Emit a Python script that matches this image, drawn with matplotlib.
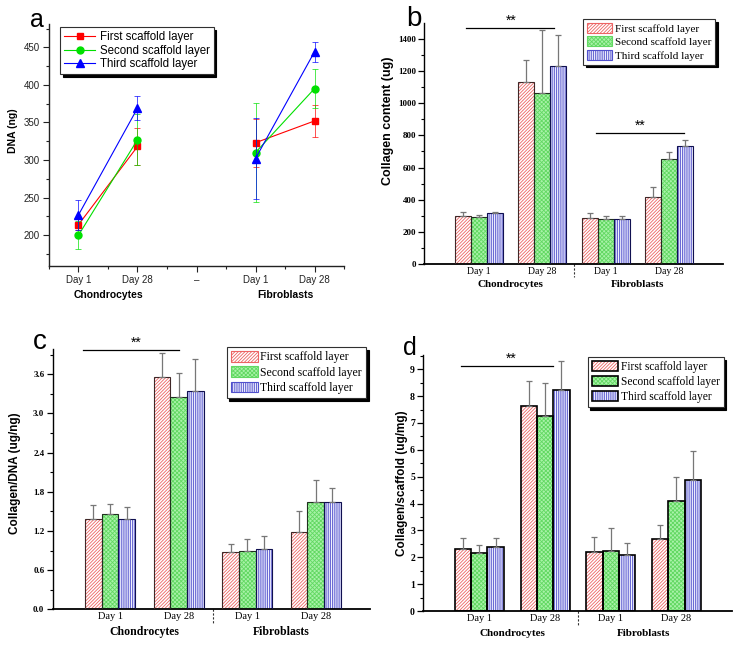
import numpy as np
import matplotlib
matplotlib.use('Agg')
import matplotlib.pyplot as plt
from matplotlib.patches import Patch
from matplotlib.lines import Line2D
from matplotlib.legend_handler import HandlerTuple
from matplotlib.ticker import MultipleLocator

plt.rcParams['hatch.linewidth'] = 0.6
SANS = 'Liberation Sans'
SERIF = 'Liberation Serif'

layers = ['First scaffold layer', 'Second scaffold layer', 'Third scaffold layer']
day_labels = ['Day 1', 'Day 28', 'Day 1', 'Day 28']
groups = ['Chondrocytes', 'Fibroblasts']

# panel a: DNA (ng) -- Chon D1, Chon D28, gap, Fib D1, Fib D28
dna_ticks = ['Day 1', 'Day 28', '–', 'Day 1', 'Day 28']
dna_first = [214, 318, np.nan, 323, 352]
dna_second = [200, 327, np.nan, 310, 395]
dna_third = [227, 369, np.nan, 302, 444]
dna_first_err = [7, 24, np.nan, 32, 21]
dna_second_err = [19, 34, np.nan, 66, 26]
dna_third_err = [20, 16, np.nan, 54, 13]

# panel b: collagen content (ug)
col_first = [297, 1131, 285, 419]
col_second = [292, 1066, 278, 651]
col_third = [315, 1232, 278, 736]
col_first_err = [25, 139, 31, 58]
col_second_err = [13, 390, 20, 46]
col_third_err = [7, 191, 20, 34]

# panel c: collagen / DNA (ug/ng)
cd_first = [1.38, 3.555, 0.873, 1.185]
cd_second = [1.456, 3.243, 0.894, 1.639]
cd_third = [1.379, 3.34, 0.919, 1.65]
cd_first_err = [0.21, 0.37, 0.12, 0.32]
cd_second_err = [0.15, 0.38, 0.18, 0.34]
cd_third_err = [0.18, 0.49, 0.21, 0.21]

# panel d: collagen / scaffold (ug/mg)
cs_first = [2.30, 7.62, 2.20, 2.69]
cs_second = [2.15, 7.27, 2.23, 4.11]
cs_third = [2.37, 8.23, 2.09, 4.88]
cs_first_err = [0.41, 0.94, 0.55, 0.53]
cs_second_err = [0.32, 1.22, 0.87, 0.88]
cs_third_err = [0.34, 1.08, 0.43, 1.09]

line_colors = ['#ff0000', '#00e000', '#0000ff']
markers = ['s', 'o', '^']
bar_face = ['white', '#a8f2a8', '#f4f4ff']
hatch_col = ['#ec6464', '#62d862', '#5050cc']
hatches = ['//////////', 'xxxxxxxx', '|||||||||']
bar_edge = ['#402828', '#203020', '#101050']

fig = plt.figure(figsize=(7.39, 6.45), dpi=100)


def style_spines(ax, lw_left=1.0, lw_bottom=1.0, color='k'):
    for s in ['top', 'right']:
        ax.spines[s].set_visible(False)
    ax.spines['left'].set_linewidth(lw_left)
    ax.spines['bottom'].set_linewidth(lw_bottom)
    ax.spines['left'].set_color(color)
    ax.spines['bottom'].set_color(color)


def legend_box(ax, handles, anchor, font, size, **kw):
    leg = ax.legend(handles, layers, loc='upper left', bbox_to_anchor=anchor,
                    borderaxespad=0, fancybox=False, framealpha=1,
                    edgecolor='#303030', shadow={'color': 'k', 'alpha': 1},
                    prop={'family': font, 'size': size}, **kw)
    leg.get_frame().set_linewidth(0.8)
    return leg


# ---------------- panel a ----------------
axa = fig.add_axes([0.0663, 0.5876, 0.3992, 0.3752])
xa = np.arange(1, 6)
dna = [dna_first, dna_second, dna_third]
dna_err = [dna_first_err, dna_second_err, dna_third_err]
handles_a = []
for i in range(3):
    axa.errorbar(xa, dna[i], yerr=dna_err[i], fmt='none', ecolor=line_colors[i],
                 elinewidth=0.6, capsize=2.5, capthick=0.6, alpha=0.8)
    axa.plot(xa, dna[i], color=line_colors[i], lw=0.8, marker=markers[i],
             ms=6 if i == 2 else 5)
    handles_a.append(Line2D([], [], color=line_colors[i], lw=0.8,
                            marker=markers[i], ms=6 if i == 2 else 5))
axa.set_xlim(0.5, 5.5)
axa.set_ylim(159, 481)
axa.set_xticks(xa)
axa.set_xticklabels(dna_ticks, fontfamily=SANS, fontsize=7)
axa.xaxis.set_minor_locator(MultipleLocator(0.5))
axa.yaxis.set_minor_locator(MultipleLocator(25))
axa.set_yticks([200, 250, 300, 350, 400, 450])
for lab in axa.get_yticklabels():
    lab.set_fontfamily(SANS)
axa.tick_params(axis='both', which='major', direction='out', length=4, width=0.8,
                labelsize=7, colors='#222222', pad=2.5)
axa.tick_params(axis='both', which='minor', direction='out', length=2.5, width=0.8,
                colors='#222222')
style_spines(axa, color='#222222')
axa.text(-0.121, 0.559, 'DNA (ng)', rotation=90, ha='center', va='center',
         transform=axa.transAxes, fontfamily=SANS, fontweight='bold', fontsize=7.5)
for gx, g in zip([1.5, 4.5], groups):
    axa.text(gx, -0.12, g, transform=axa.get_xaxis_transform(), ha='center',
             va='center', fontfamily=SANS, fontweight='bold', fontsize=7.5)
legend_box(axa, handles_a, (0.037, 0.988), SANS, 8.3, handlelength=2.7,
           handletextpad=0.4, borderpad=0.35, labelspacing=0.15)


# ---------------- bar panels ----------------
def bar_panel(rect, series, errs, xlim, ylim, width, edge_lw, major, minor,
              ylabel, ylab_xy, fs, sig, leg_anchor, leg_size, black_leg=False):
    ax = fig.add_axes(rect)
    x = np.arange(1, 5)
    for i in range(3):
        pos = x + (i - 1) * width
        ax.bar(pos, series[i], width, color=bar_face[i], edgecolor=hatch_col[i],
               hatch=hatches[i], linewidth=0, zorder=2)
        ax.bar(pos, series[i], width, fill=False,
               edgecolor='k' if black_leg else bar_edge[i],
               linewidth=edge_lw, zorder=3)
        ax.errorbar(pos, series[i], yerr=[np.zeros(4), errs[i]], fmt='none',
                    ecolor='#777777', elinewidth=0.9, capsize=2, capthick=0.9, zorder=4)
    ax.set_xlim(*xlim)
    ax.set_ylim(*ylim)
    ax.set_xticks(x)
    ax.set_xticklabels(day_labels, fontfamily=SERIF, fontsize=fs['day'])
    ax.tick_params(axis='x', length=0, pad=2)
    ax.yaxis.set_major_locator(MultipleLocator(major))
    ax.yaxis.set_minor_locator(MultipleLocator(minor))
    ax.tick_params(axis='y', which='major', direction='out', length=4, width=0.9,
                   labelsize=fs['tick'], pad=2)
    ax.tick_params(axis='y', which='minor', direction='out', length=2, width=0.8)
    for lab in ax.get_yticklabels():
        lab.set_fontfamily(SERIF)
        lab.set_fontweight('bold')
    style_spines(ax, lw_left=1.0, lw_bottom=1.3)
    ax.text(ylab_xy[0], ylab_xy[1], ylabel, rotation=90, ha='center', va='center',
            transform=ax.transAxes, fontfamily=SANS, fontweight='bold',
            fontsize=fs['ylab'])
    for gx, g in zip([1.5, 3.5], groups):
        ax.text(gx, -0.086, g, transform=ax.get_xaxis_transform(), ha='center',
                va='center', fontfamily=SERIF, fontweight='bold', fontsize=fs['group'])
    # dashed divider between cell types
    ax.plot([2.5, 2.5], [0, -0.055], transform=ax.get_xaxis_transform(),
            color='#333333', lw=0.8, ls=(0, (2, 1.5)), clip_on=False)
    for x0, x1, yv, tx in sig:
        ax.plot([x0, x1], [yv, yv], color='k', lw=0.9, clip_on=False)
        ax.text(tx, yv, '**', ha='center', va='bottom', fontsize=10,
                fontfamily=SANS, clip_on=False)
    handles = []
    for i in range(3):
        h1 = Patch(facecolor=bar_face[i], edgecolor=hatch_col[i], hatch=hatches[i], lw=0)
        h2 = Patch(fill=False, edgecolor='k' if black_leg else hatch_col[i],
                   lw=1.2 if black_leg else 0.8)
        handles.append((h1, h2))
    legend_box(ax, handles, leg_anchor, SERIF, leg_size,
               handler_map={tuple: HandlerTuple(ndivide=1)},
               handlelength=2.3, handleheight=1.0, handletextpad=0.2,
               borderpad=0.35, labelspacing=0.25)
    return ax


bar_panel([0.5741, 0.5907, 0.4042, 0.3732],
          [col_first, col_second, col_third],
          [col_first_err, col_second_err, col_third_err],
          (0.146, 4.845), (0, 1497), 0.252, 0.8, 200, 100,
          'Collagen content (ug)', (-0.122, 0.595),
          {'day': 7, 'tick': 6.5, 'ylab': 9, 'group': 8},
          [(0.80, 2.19, 1470, 1.52), (2.85, 4.23, 815, 3.54)],
          (0.531, 1.018), 8)

bar_panel([0.0713, 0.0553, 0.4294, 0.4031],
          [cd_first, cd_second, cd_third],
          [cd_first_err, cd_second_err, cd_third_err],
          (0.164, 4.79), (0, 3.98), 0.243, 0.8, 0.6, 0.3,
          'Collagen/DNA (ug/ng)', (-0.119, 0.523),
          {'day': 7.5, 'tick': 6.5, 'ylab': 8.5, 'group': 8.5},
          [(0.60, 2.01, 3.97, 1.38)],
          (0.548, 1.009), 8.5)

bar_panel([0.5728, 0.0527, 0.4173, 0.3969],
          [cs_first, cs_second, cs_third],
          [cs_first_err, cs_second_err, cs_third_err],
          (0.147, 4.84), (0, 9.53), 0.248, 1.2, 1, 0.5,
          'Collagen/scaffold (ug/mg)', (-0.070, 0.5),
          {'day': 7.5, 'tick': 7, 'ylab': 8.5, 'group': 8},
          [(0.72, 2.12, 9.12, 1.49)],
          (0.533, 0.993), 8.3, black_leg=True)

# panel letters
for tx, ty, s, size in [(0.0406, 0.9586, 'a', 18), (0.5494, 0.9597, 'b', 20),
                        (0.0451, 0.4584, 'c', 20), (0.5457, 0.4496, 'd', 18)]:
    fig.text(tx, ty, s, fontfamily=SANS, fontsize=size, va='baseline', ha='left')

fig.savefig('out.png', dpi=100)
